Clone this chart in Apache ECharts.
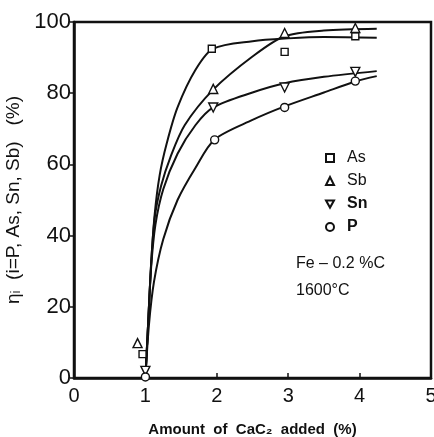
<!DOCTYPE html>
<html>
<head>
<meta charset="utf-8">
<script src="https://cdn.jsdelivr.net/npm/echarts@6/dist/echarts.min.js"></script>
<style>html,body{margin:0;padding:0;background:#fff;}#c{width:434px;height:437px;}</style>
</head>
<body>
<div id="c"></div>
<script>
// Measured points (x = CaC2 added %, y = eta %)
const asX = [0.96, 1.93, 2.95, 3.94];
const asY = [6.7, 92.5, 91.6, 96.0];
const sbX = [0.89, 1.95, 2.95, 3.94];
const sbY = [9.8, 81.2, 96.9, 98.3];
const snX = [1.0, 1.95, 2.95, 3.94];
const snY = [2.0, 76.0, 81.6, 86.0];
const pX = [1.0, 1.97, 2.95, 3.94];
const pY = [0.3, 66.9, 76.0, 83.4];

// Hand-drawn fitted curves
const curveAs = [[1.0,0],[1.04,16],[1.08,32],[1.13,46],[1.2,57],[1.3,66],[1.45,76],[1.7,86.5],[1.95,92.5],[2.5,94.6],[3.0,95.4],[3.5,95.8],[4.24,95.6]];
const curveSb = [[1.0,0],[1.04,16],[1.08,32],[1.13,45],[1.22,54],[1.35,62],[1.55,71],[1.95,81],[2.5,90.3],[2.95,96.0],[3.5,97.6],[4.24,98.1]];
const curveSn = [[1.0,0],[1.04,16],[1.08,31],[1.14,43],[1.25,53],[1.45,63],[1.7,71],[1.95,76],[2.5,80.2],[2.95,82.8],[3.5,84.6],[4.24,86.2]];
const curveP = [[1.0,0],[1.05,15],[1.12,27],[1.25,39],[1.45,50],[1.7,59],[1.97,67],[2.5,72.5],[2.95,76.3],[3.5,80.2],[3.94,83.3],[4.24,84.8]];

const seriesNames = ['As', 'Sb', 'Sn', 'P'];
const yTicks = [0, 20, 40, 60, 80, 100];
const xTicks = [0, 1, 2, 3, 4, 5];

const FONT = 'Liberation Sans';
const downTri = 'path://M0,0 L10,0 L5,9 Z';
const symbols = ['rect', 'triangle', downTri, 'circle'];
const pointSets = [[asX, asY], [sbX, sbY], [snX, snY], [pX, pY]];
const curves = [curveAs, curveSb, curveSn, curveP];

const chart = echarts.init(document.getElementById('c'));
const series = [];
curves.forEach((c, i) => {
  series.push({
    type: 'line', name: seriesNames[i] + ' curve', data: c, smooth: 0.3,
    showSymbol: false, symbol: 'none', silent: true,
    lineStyle: { color: '#111', width: 2 }, z: 2
  });
});
pointSets.forEach((ps, i) => {
  series.push({
    type: 'scatter', name: seriesNames[i],
    data: ps[0].map((x, k) => [x, ps[1][k]]),
    symbol: symbols[i], symbolSize: i === 3 ? 8 : (i === 0 ? 7 : 9),
    itemStyle: { color: '#fff', borderColor: '#111', borderWidth: 1.4, opacity: 1 },
    z: 5
  });
});

chart.setOption({
  animation: false,
  backgroundColor: '#fff',
  grid: { left: 74, right: 3, top: 22, bottom: 59, show: true, borderColor: '#111', borderWidth: 2.5,
    containLabel: false, outerBoundsMode: 'none' },
  legend: {
    data: seriesNames.map((n, i) => ({
      name: n, icon: symbols[i],
      textStyle: { fontWeight: i >= 2 ? 'bold' : 'normal' }
    })),
    orient: 'vertical', left: 320, top: 145, itemWidth: 8, itemHeight: 8, itemGap: 7,
    textStyle: { fontFamily: FONT, fontSize: 16, color: '#111', padding: [0, 0, 0, 8] },
    selectedMode: false
  },
  xAxis: {
    type: 'value', min: 0, max: 5, interval: 1,
    name: 'Amount  of  CaC\u2082  added  (%)', nameLocation: 'middle', nameGap: 44,
    nameTextStyle: { fontFamily: FONT, fontSize: 15, fontWeight: 'bold', color: '#111' },
    axisLine: { show: true, lineStyle: { color: '#111', width: 2.5 } },
    axisTick: { show: true, inside: true, length: 5, lineStyle: { color: '#111', width: 1.5 } },
    axisLabel: { fontFamily: FONT, fontSize: 20, color: '#111', margin: 8,
      formatter: v => xTicks.includes(v) ? String(v) : '' },
    splitLine: { show: false }
  },
  yAxis: {
    type: 'value', min: 0, max: 100, interval: 20,
    name: '\u03b7\u1d62  (i=P, As, Sn, Sb)   (%)', nameLocation: 'middle', nameGap: 44,
    nameTextStyle: { fontFamily: FONT, fontSize: 19, color: '#111' },
    axisLine: { show: true, lineStyle: { color: '#111', width: 2.5 } },
    axisTick: { show: true, inside: false, length: 4, lineStyle: { color: '#111', width: 1.5 } },
    axisLabel: { fontFamily: FONT, fontSize: 22, color: '#111', margin: 3,
      formatter: v => yTicks.includes(v) ? String(v) : '' },
    splitLine: { show: false }
  },
  graphic: [
    { type: 'text', left: 296, top: 256, style: { text: 'Fe \u2013 0.2 %C', font: '16px "Liberation Sans"', fill: '#111' } },
    { type: 'text', left: 296, top: 283, style: { text: '1600\u00b0C', font: '16px "Liberation Sans"', fill: '#111' } }
  ],
  series: series
});
</script>
</body>
</html>
